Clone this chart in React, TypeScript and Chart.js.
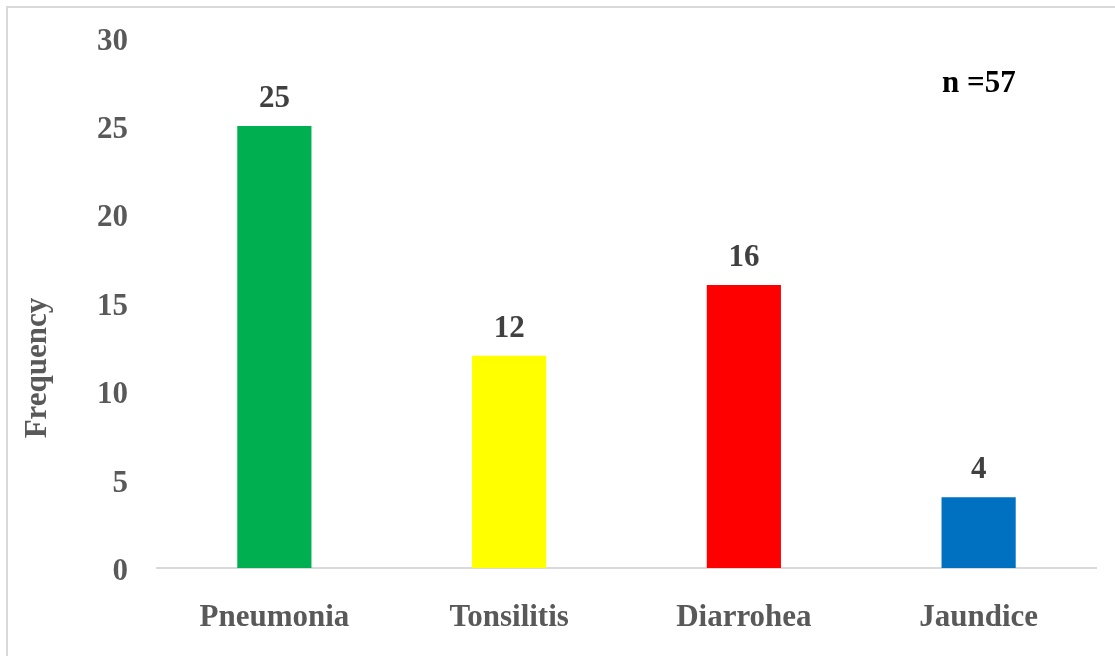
import React, { useEffect, useRef } from "react";
import { Chart, registerables } from "chart.js";

Chart.register(...registerables);

const categories = ["Pneumonia", "Tonsilitis", "Diarrohea", "Jaundice"];
const frequencies = [25, 12, 16, 4];
const barColors = ["#00B050", "#FFFF00", "#FF0000", "#0070C0"];
const yTicks = [0, 5, 10, 15, 20, 25, 30];
const sampleNote = "n =57";
const yTitle = "Frequency";

const FONT = '"Liberation Serif", "Times New Roman", serif';

export default function App() {
  const ref = useRef<HTMLCanvasElement | null>(null);

  useEffect(() => {
    document.body.style.margin = "0";
    const canvas = ref.current;
    if (!canvas) return;

    const labelsPlugin = {
      id: "extras",
      afterDatasetsDraw(chart: any) {
        const ctx = chart.ctx;
        const meta = chart.getDatasetMeta(0);
        ctx.save();
        ctx.font = `bold 31px ${FONT}`;
        ctx.fillStyle = "#404040";
        ctx.textAlign = "center";
        ctx.textBaseline = "alphabetic";
        meta.data.forEach((bar: any, i: number) => {
          ctx.fillText(String(frequencies[i]), bar.x, bar.y - 19);
        });
        // sample size note
        ctx.fillStyle = "#000000";
        ctx.textAlign = "left";
        ctx.fillText(sampleNote, 942, 92);
        // y-axis title
        ctx.fillStyle = "#595959";
        ctx.translate(38, 368);
        ctx.rotate(-Math.PI / 2);
        ctx.textAlign = "center";
        ctx.textBaseline = "middle";
        ctx.fillText(yTitle, 0, 0);
        ctx.restore();
      },
    };

    const chart = new Chart(canvas, {
      type: "bar",
      data: {
        labels: categories,
        datasets: [
          {
            data: frequencies,
            backgroundColor: barColors,
            borderWidth: 0,
            categoryPercentage: 1,
            barPercentage: 0.316,
          },
        ],
      },
      options: {
        animation: false,
        responsive: false,
        maintainAspectRatio: false,
        layout: { padding: { left: 0, right: 19, top: 37.5, bottom: 0 } },
        plugins: {
          legend: { display: false },
          tooltip: { enabled: false },
        },
        scales: {
          x: {
            grid: { display: false, drawTicks: false },
            border: { display: true, color: "#D9D9D9", width: 2 },
            ticks: {
              padding: 31,
              color: "#595959",
              font: { family: FONT, size: 31, weight: "bold" },
            },
            afterFit(scale: any) {
              scale.height = 88;
              scale.paddingLeft = 0;
              scale.paddingRight = 0;
            },
          },
          y: {
            min: 0,
            max: 30,
            grid: { display: false, drawTicks: false },
            border: { display: false },
            afterBuildTicks(scale: any) {
              scale.ticks = yTicks.map((v) => ({ value: v }));
            },
            ticks: {
              padding: 29,
              labelOffset: 4,
              color: "#595959",
              font: { family: FONT, size: 31, weight: "bold" },
            },
            afterFit(scale: any) {
              scale.width = 157;
              scale.paddingTop = 0;
              scale.paddingBottom = 0;
            },
          },
        },
      },
      plugins: [labelsPlugin],
    } as any);

    return () => chart.destroy();
  }, []);

  return (
    <div style={{ position: "relative", width: 1115, height: 656, background: "#fff", overflow: "hidden" }}>
      <div
        style={{
          position: "absolute",
          left: 6,
          top: 6,
          width: 1115,
          height: 656,
          borderLeft: "2px solid #D9D9D9",
          borderTop: "2px solid #D9D9D9",
        }}
      />
      <canvas ref={ref} width={1115} height={656} style={{ position: "absolute", left: 0, top: 0 }} />
    </div>
  );
}
